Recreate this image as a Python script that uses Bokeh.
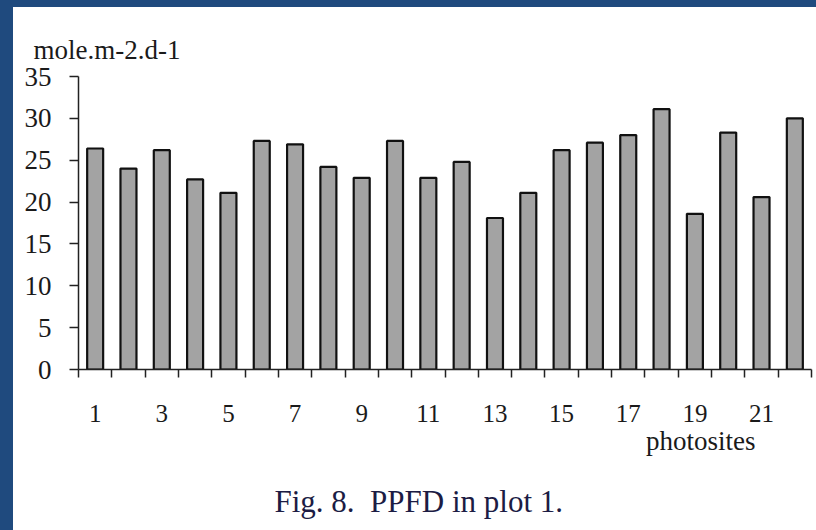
from bokeh.plotting import figure
from bokeh.models import Range1d, FixedTicker, Title, GlobalInlineStyleSheet
from bokeh.embed import file_html
from bokeh.resources import INLINE

# ---- data ----
sites = list(range(1, 23))
ppfd = [26.4, 24.0, 26.2, 22.7, 21.1, 27.3, 26.9, 24.2, 22.9, 27.3, 22.9,
        24.8, 18.1, 21.1, 26.2, 27.1, 28.0, 31.1, 18.6, 28.3, 20.6, 30.0]
x_tick_labels = [1, 3, 5, 7, 9, 11, 13, 15, 17, 19, 21]
y_ticks = [0, 5, 10, 15, 20, 25, 30, 35]
y_unit = "mole.m-2.d-1"
x_title = "photosites"
caption = "Fig. 8.\u00a0 PPFD in plot 1."

FONT = "Liberation Serif"
BLUE = "#1f4a7e"

p = figure(width=803, height=523, output_backend="svg", toolbar_location=None,
           x_range=Range1d(0.5, 22.5), y_range=Range1d(0, 35),
           min_border_left=65, min_border_right=5, min_border_top=69,
           min_border_bottom=160)
p.stylesheets = [GlobalInlineStyleSheet(
    css=f"html,body{{background:{BLUE};overflow:hidden}} body{{margin:7px 0 0 13px !important;}}")]
p.styles = {"background-color": "white"}

p.background_fill_color = "white"
p.border_fill_color = "white"
p.outline_line_color = None
p.xgrid.visible = False
p.ygrid.visible = False

p.vbar(x=sites, top=ppfd, width=0.48, bottom=0,
       fill_color="#a3a3a3", line_color="#111111", line_width=2.2)

# x axis
xa = p.xaxis[0]
xa.ticker = FixedTicker(ticks=x_tick_labels,
                        minor_ticks=[s - 0.5 for s in sites] + [sites[-1] + 0.5])
xa.major_tick_out = 0
xa.major_tick_in = 0
xa.minor_tick_out = 8
xa.minor_tick_in = 0
xa.minor_tick_line_color = "#222222"
xa.minor_tick_line_width = 1.5
xa.axis_line_color = "#222222"
xa.axis_line_width = 1.5
xa.major_label_text_font = FONT
xa.major_label_text_font_size = "25px"
xa.major_label_text_color = "#1a1a1a"
xa.major_label_standoff = 27

# y axis
ya = p.yaxis[0]
ya.ticker = FixedTicker(ticks=y_ticks)
ya.minor_tick_line_color = None
ya.major_tick_out = 9
ya.major_tick_in = 0
ya.major_tick_line_color = "#222222"
ya.major_tick_line_width = 1.5
ya.axis_line_color = "#222222"
ya.axis_line_width = 1.5
ya.major_label_text_font = FONT
ya.major_label_text_font_size = "27px"
ya.major_label_text_color = "#1a1a1a"
ya.major_label_standoff = 18

# texts
p.title = Title(text=y_unit, align="left", offset=-45, standoff=24,
                text_font=FONT, text_font_size="27px", text_font_style="normal",
                text_color="#1a1a1a")
p.add_layout(Title(text=x_title, align="right", offset=56, standoff=2,
                   vertical_align="top", text_font=FONT, text_font_size="27px",
                   text_font_style="normal", text_color="#1a1a1a"), "below")
# blank spacer between the axis title and the caption
p.add_layout(Title(text="\u00a0", align="left", standoff=3,
                   vertical_align="top", text_font=FONT, text_font_size="10px",
                   text_color="white"), "below")
p.add_layout(Title(text=caption, align="left", offset=196, standoff=19,
                   vertical_align="top", text_font=FONT, text_font_size="31px",
                   text_font_style="normal", text_color="#1c1c44"), "below")

open("out.html", "w").write(file_html(p, INLINE))
